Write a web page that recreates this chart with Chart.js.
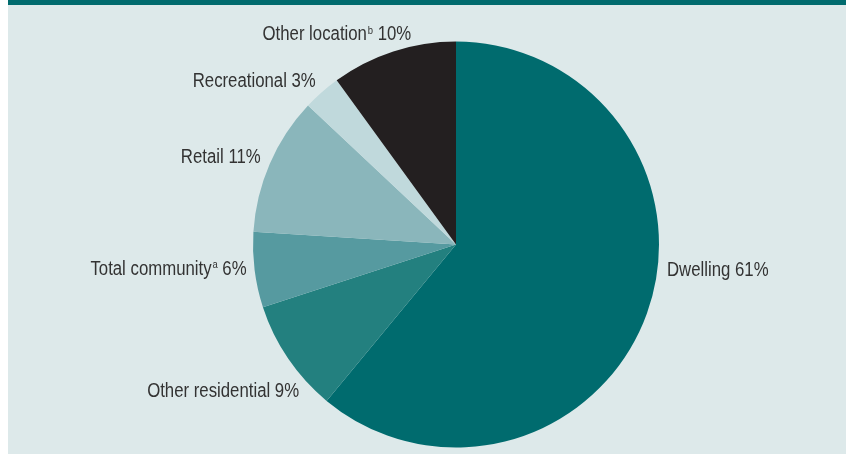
<!DOCTYPE html>
<html>
<head>
<meta charset="utf-8">
<script src="https://cdn.jsdelivr.net/npm/chart.js@4/dist/chart.umd.min.js"></script>
<style>
  html, body { margin: 0; padding: 0; background: #ffffff; }
  #panel { position: absolute; left: 8px; top: 0; width: 838px; height: 454px; background: #dde9ea; }
  #bar { position: absolute; left: 8px; top: 0; width: 838px; height: 5px; background: #006b6e; }
  #wrap { position: absolute; left: 0; top: 0; width: 846px; height: 454px; }
</style>
</head>
<body>
<div id="panel"></div>
<div id="bar"></div>
<div id="wrap"><canvas id="c" width="846" height="454"></canvas></div>
<script>
// ---- data ----
const categories = ["Dwelling", "Other residential", "Total community", "Retail", "Recreational", "Other location"];
const superscripts = ["", "", "a", "", "", "b"];
const shares = [61, 9, 6, 11, 3, 10];

// ---- styling ----
const sliceColors = ["#006b6e", "#23807f", "#569aa0", "#8ab6bb", "#c0d9dc", "#231f20"];
// label placement relative to outer mid-point of each slice: [dx, dy, align]
const labelPlacement = [[20, -44, "left"], [11, 31, "right"], [-8, -2, "right"], [-9, -8, "right"], [-6, -12, "right"], [18, -18, "right"]];
const FONT = '"Liberation Sans", Arial, sans-serif';
const CONDENSE = 0.86;

const labelPlugin = {
  id: "sliceLabels",
  afterDatasetsDraw(chart) {
    const ctx = chart.ctx;
    const meta = chart.getDatasetMeta(0);
    meta.data.forEach((arc, i) => {
      const p = arc.getProps(["x", "y", "startAngle", "endAngle", "outerRadius"], true);
      const mid = (p.startAngle + p.endAngle) / 2;
      const px = p.x + Math.cos(mid) * p.outerRadius;
      const py = p.y + Math.sin(mid) * p.outerRadius;
      const [dx, dy, align] = labelPlacement[i];
      const mainFont = "19.5px " + FONT;
      const supFont = "11px " + FONT;
      const t1 = categories[i];
      const sup = superscripts[i];
      const t2 = " " + shares[i] + "%";
      ctx.save();
      ctx.fillStyle = "#333333";
      ctx.textBaseline = "alphabetic";
      ctx.textAlign = "left";
      ctx.font = mainFont;
      const w1 = ctx.measureText(t1).width;
      const w3 = ctx.measureText(t2).width;
      ctx.font = supFont;
      const w2 = sup ? ctx.measureText(sup).width + 1 : 0;
      const total = (w1 + w2 + w3) * CONDENSE;
      const x0 = align === "left" ? px + dx : px + dx - total;
      const base = py + dy + 7;
      ctx.translate(x0, base);
      ctx.scale(CONDENSE, 1);
      let x = 0;
      ctx.font = mainFont;
      ctx.fillText(t1, x, 0);
      x += w1;
      if (sup) {
        ctx.font = supFont;
        ctx.fillText(sup, x + 1, -6.5);
        x += w2;
      }
      ctx.font = mainFont;
      ctx.fillText(t2, x, 0);
      ctx.restore();
    });
  }
};

new Chart(document.getElementById("c"), {
  type: "pie",
  data: {
    labels: categories,
    datasets: [{
      data: shares,
      backgroundColor: sliceColors,
      borderWidth: 0
    }]
  },
  options: {
    responsive: false,
    animation: false,
    layout: { padding: { top: 41.5, bottom: 6.5, left: 66, right: 0 } },
    plugins: { legend: { display: false }, tooltip: { enabled: false } }
  },
  plugins: [labelPlugin]
});
</script>
</body>
</html>
